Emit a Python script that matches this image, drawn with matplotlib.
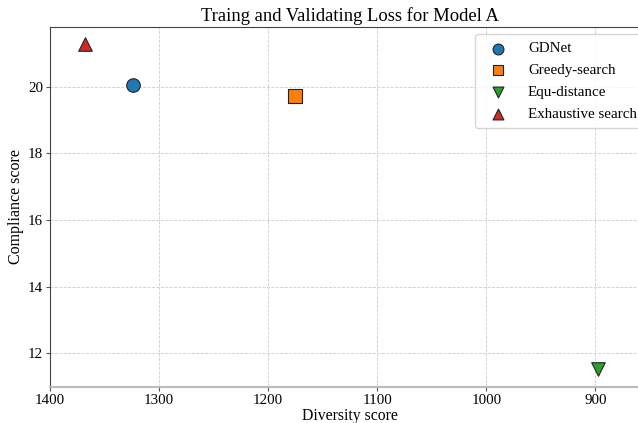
import matplotlib
matplotlib.use("Agg")
import matplotlib.pyplot as plt

# data
methods = ["GDNet", "Greedy-search", "Equ-distance", "Exhaustive search"]
diversity = [1324, 1175, 898, 1368]
compliance = [20.05, 19.73, 11.52, 21.28]
markers = ["o", "s", "v", "^"]
colors = ["#1f77b4", "#ff7f0e", "#2ca02c", "#d62728"]

plt.rcParams["font.family"] = ["Liberation Serif", "DejaVu Serif"]

fig = plt.figure(figsize=(6.38, 4.23), dpi=100)
ax = fig.add_axes([50 / 638, 36 / 423, 600 / 638, 360 / 423])

for name, x, y, m, c in zip(methods, diversity, compliance, markers, colors):
    ax.scatter(x, y, s=95, marker=m, color=c, edgecolors="#222222",
               linewidths=0.8, label=name, zorder=3)

ax.set_xlim(1400, 850)
ax.set_ylim(10.98, 21.8)
ax.set_yticks([12, 14, 16, 18, 20])
ax.grid(True, linestyle="--", color="#cccccc", linewidth=0.6)
ax.set_axisbelow(True)

ax.set_title("Traing and Validating Loss for Model A", fontsize=13.4, pad=4)
ax.set_xlabel("Diversity score", fontsize=11.3, labelpad=1)
ax.set_ylabel("Compliance score", fontsize=11.5, labelpad=3)
ax.tick_params(labelsize=10.8, length=3, pad=2, color="#555555")

for side in ["top", "left"]:
    ax.spines[side].set_color("#444444")
ax.spines["bottom"].set_color("#bbbbbb")
ax.spines["bottom"].set_linewidth(1.5)
ax.spines["right"].set_visible(False)

leg = ax.legend(loc="upper right", fontsize=10.8, frameon=True,
                bbox_to_anchor=(1.003, 1.0), borderaxespad=0.5,
                handletextpad=1.0, handlelength=2.0,
                labelspacing=0.55, borderpad=0.5, markerscale=0.8)
leg.get_frame().set_edgecolor("#cccccc")

fig.savefig("out.png", dpi=100)
